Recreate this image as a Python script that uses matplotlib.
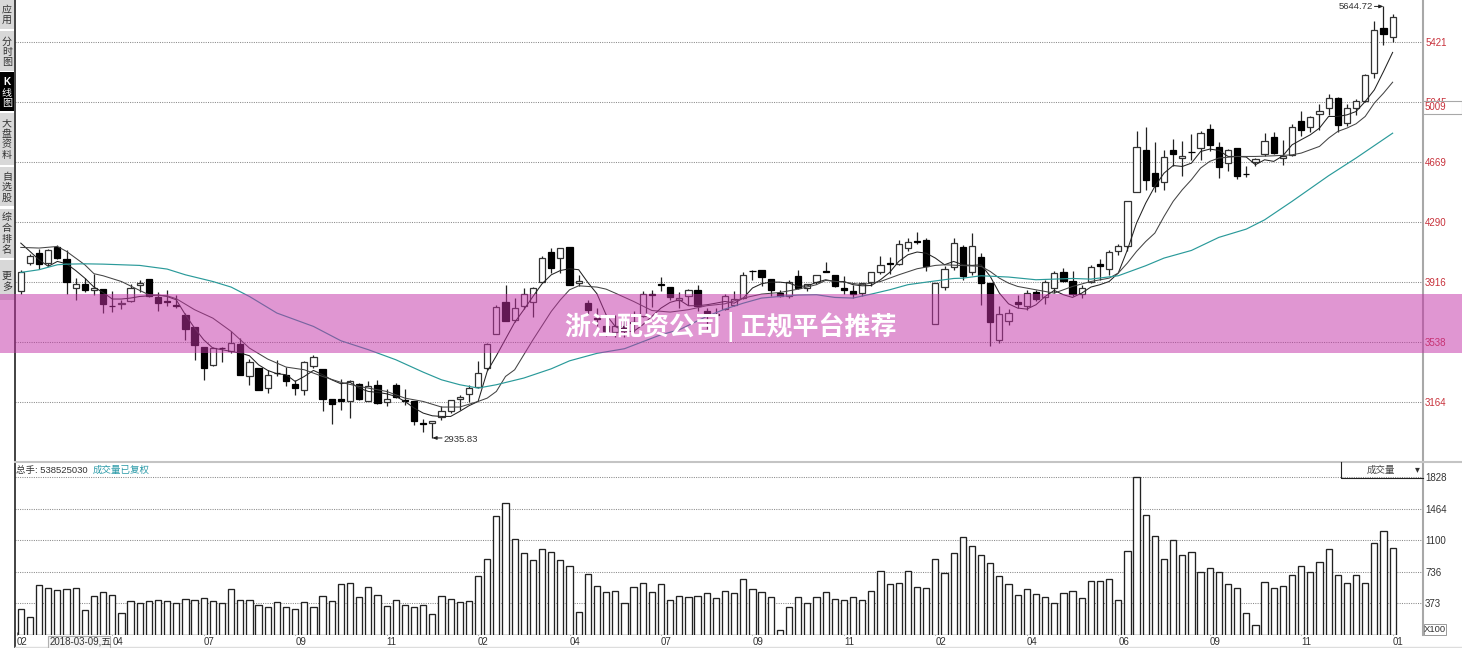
import matplotlib
matplotlib.use("Agg")
import matplotlib.pyplot as plt
import numpy as np
from matplotlib.patches import Rectangle

plt.rcParams['font.family'] = ['Liberation Sans', 'Noto Sans CJK SC', 'DejaVu Sans']

open_ = [3856,4034,4098,4031,4136,4059,3875,3902,3864,3870,
 3766,3776,3793,3898,3933,3820,3793,3772,3709,3632,
 3510,3391,3502,3479,3527,3324,3377,3247,3345,3328,
 3276,3236,3385,3368,3180,3180,3167,3276,3167,3266,
 3159,3266,3172,3165,3027,3027,3069,3105,3180,3211,
 3253,3375,3588,3789,3674,3764,3789,3914,4103,4065,
 4134,3910,3785,3688,3640,3600,3636,3663,3699,3839,
 3902,3883,3803,3828,3864,3734,3711,3747,3768,3812,
 3987,3990,3931,3843,3828,3950,3879,3916,3981,3956,
 3879,3856,3843,3918,3977,4031,4027,4130,4172,4176,
 3651,3883,4009,4136,3977,4072,3908,3553,3672,3787,
 3762,3850,3821,3879,3977,3921,3837,3917,4028,3996,
 4109,4139,4480,4745,4601,4544,4741,4693,4733,4754,
 4875,4764,4662,4756,4595,4670,4716,4827,4693,4712,
 4923,4887,4967,5007,5072,4910,5007,5051,5224,5507,5450]
close = [3975,4075,4027,4113,4065,3918,3900,3862,3877,3774,
 3762,3780,3879,3906,3828,3782,3787,3764,3619,3519,
 3375,3500,3498,3529,3328,3410,3239,3333,3341,3291,
 3251,3414,3444,3178,3147,3167,3291,3178,3264,3155,
 3180,3193,3167,3040,3023,3042,3103,3174,3190,3251,
 3343,3525,3755,3670,3751,3839,3879,4065,4000,4126,
 3898,3921,3739,3682,3605,3636,3605,3659,3839,3835,
 3898,3820,3816,3862,3762,3720,3707,3824,3808,3956,
 3983,3946,3864,3824,3916,3877,3900,3960,3977,3887,
 3862,3841,3906,3975,4023,4027,4153,4165,4167,4013,
 3908,3998,4157,3950,4143,3906,3662,3716,3718,3779,
 3846,3808,3917,3971,3921,3837,3875,4009,4015,4103,
 4143,4425,4762,4553,4515,4699,4716,4708,4729,4850,
 4777,4634,4741,4578,4590,4687,4800,4726,4703,4887,
 4867,4948,4986,5072,4898,5005,5049,5214,5496,5469,5576]
high = [3992,4090,4121,4121,4146,4113,3939,3939,3967,3870,
 3858,3803,3904,3929,3933,3849,3866,3835,3720,3632,
 3510,3504,3510,3605,3563,3431,3377,3364,3423,3379,
 3301,3418,3456,3368,3180,3305,3297,3280,3291,3297,
 3243,3280,3243,3165,3054,3042,3134,3174,3207,3270,
 3416,3531,3772,3895,3814,3875,3883,4075,4128,4126,
 4134,3958,3803,3751,3709,3709,3678,3730,3858,3862,
 3946,3883,3849,3870,3898,3751,3751,3839,3856,3979,
 3990,3990,3931,3866,3929,3992,3900,3960,4040,3956,
 3950,3898,3906,3975,4075,4071,4180,4190,4228,4190,
 3910,4013,4191,4149,4220,4097,3908,3766,3745,3835,
 3867,3862,3929,3982,4003,3982,3898,4019,4059,4118,
 4153,4425,4864,4887,4793,4745,4812,4800,4844,4860,
 4906,4793,4749,4756,4645,4693,4850,4856,4808,4908,
 4987,4954,5034,5097,5076,5034,5063,5218,5553,5644.72,5597]
low = [3839,4019,3998,4013,4059,3841,3805,3849,3835,3718,
 3724,3745,3787,3849,3820,3730,3766,3749,3552,3427,
 3301,3389,3410,3469,3328,3270,3239,3216,3322,3264,
 3203,3203,3375,3107,3021,3109,3059,3176,3167,3151,
 3134,3188,3144,3015,2973,2935.83,3046,3092,3113,3161,
 3251,3364,3588,3670,3661,3745,3695,3914,3971,3971,
 3898,3891,3709,3636,3573,3569,3569,3598,3695,3757,
 3860,3803,3751,3772,3730,3619,3657,3741,3762,3808,
 3929,3887,3828,3820,3812,3870,3856,3900,3975,3883,
 3841,3812,3824,3887,3967,3967,4023,4107,4153,3981,
 3651,3866,3992,3929,3961,3772,3511,3532,3647,3752,
 3741,3793,3779,3846,3913,3829,3812,3908,3929,3961,
 4086,4107,4477,4494,4477,4490,4641,4578,4682,4682,
 4735,4565,4609,4563,4574,4645,4708,4720,4647,4708,
 4833,4854,4871,4965,4854,4892,4965,5046,5197,5400,5419]

volume = [306,213,584,550,526,538,550,294,457,503,468,255,399,368,399,410,399,368,422,402,
 433,399,368,538,410,410,352,325,387,329,306,387,325,457,399,592,608,445,553,468,
 341,410,352,329,352,248,457,422,387,399,689,882,
 1381,1529,1114,947,865,1001,958,865,795,272,702,563,504,512,369,555,598,504,586,411,
 458,442,458,493,435,516,493,644,528,504,446,62,330,442,369,446,504,423,404,442,
 404,516,741,586,609,741,555,547,885,714,947,1133,
 1036,923,830,679,586,469,528,481,446,369,493,512,435,629,632,644,411,970,1828,1389,
 1148,877,1098,923,958,726,772,726,590,547,260,120,617,547,574,691,795,733,842,993,
 691,609,691,598,1063,1203,1005]

ma_fast = [4159,4107,4054,4013,4044,4029,3987,3939,3883,3849,3808,3808,3814,3824,3828,3833,3824,3803,3709,3626,
 3552,3500,3490,3479,3469,3452,3395,3360,3339,3333,3291,3322,3360,3333,3301,3276,3285,3249,3228,3222,
 3213,3197,3165,3124,3092,3075,3071,3071,3103,3138,3165,
 3354,3452,3557,3661,3741,3824,3904,3960,3987,3998,3992,3912,3841,3709,3636,3605,3605,3646,3699,3751,
 3787,3803,3766,3766,3772,3782,3793,3782,3814,3877,3904,3914,3914,3908,3887,3891,3912,3929,3918,3918,
 3898,3891,3893,3929,3975,4044,4086,4103,4096,4065,
 4023,4044,4023,4019,4023,3950,3845,3778,3751,3745,3772,3824,3862,3835,3818,3845,3883,3898,3918,3971,
 4117,4285,4410,4515,4598,4646,4640,4661,4734,4749,4741,4703,4703,4699,4651,4682,4672,4707,4776,4808,
 4839,4881,4954,4954,4964,4985,5048,5121,5236,5356]

ma_slow_idx = [0,2,4,5,7,8,9,11,13,14,16,17,19,21,23,25,27,29,31,33,35,37,38,40,42,44,46,48,50,51,52,53,54,55,56,
 58,59,60,61,63,64,65,67,69,71,73,75,77,79,81,83,85,87,88,90,92,94,96,98,100,101,105,106,107,108,109,111,113,115,117,
 119,120,121,122,123,124,125,126,127,128,129,130,131,133,135,137,139,140,141,142,143,144,145,146,147,148,149,150]
ma_slow = [4132,4128,4138,4107,4023,3967,3954,3918,3862,3835,3828,3810,3741,3688,3605,3500,3431,3381,3364,3322,3285,3259,3249,3228,3186,3165,3130,3130,3165,3186,3228,3322,3364,3458,3552,
 3730,3803,3866,3891,3883,3870,3845,3793,3736,3726,3741,3766,3778,3814,3839,3849,3870,3898,3925,3914,3898,3918,3960,3998,4019,4023,4013,3981,3939,3908,3887,3866,3845,3887,3918,
 3939,3971,4034,4107,4169,4222,4326,4421,4494,4557,4630,4672,4693,4703,4703,4707,4713,4724,4745,4766,4818,4860,4881,4908,4954,5038,5100,5169]

ma_long_idx = [0,2,4,5,7,9,13,16,18,21,23,25,28,32,35,38,41,44,46,48,50,52,55,58,60,63,66,70,72,75,77,79,81,83,85,87,89,91,93,95,97,99,
 102,103,105,108,111,115,117,120,123,125,128,131,134,136,139,143,146,150]
ma_long = [3975,3992,4023,4027,4029,4027,4019,3996,3960,3918,3883,3824,3720,3636,3546,3490,3427,3349,3301,3270,3249,3270,3312,3370,3420,3467,3496,3584,3615,3699,3745,3782,3814,3824,3833,3835,3818,3814,3839,3866,3898,3914,
 3937,3939,3954,3946,3929,3937,3933,3954,4017,4065,4113,4195,4247,4305,4421,4582,4693,4849]

price_ticks = [5421,5045,4669,4290,3916,3538,3164]
volume_ticks = [1828,1464,1100,736,373]
tick_idx = [-0.45,10,20,30,40,50,60,70,80,90,100,110,120,130,140,150]
tick_labels = ['02','04','07','09','11','02','04','07','09','11','02','04','06','09','11','01']
side_buttons = [('应用', 0, 29, '#d8d8d8', '#333333', [9, 20]),
                ('分时图', 31, 71, '#d8d8d8', '#333333', [42, 52, 62]),
                ('K线图', 72, 111, '#000000', '#ffffff', [82, 93, 103]),
                ('大盘资料', 113, 165, '#d8d8d8', '#333333', [123, 134, 144, 155]),
                ('自选股', 167, 206, '#d8d8d8', '#333333', [177, 187, 198]),
                ('综合排名', 209, 258, '#d8d8d8', '#333333', [217, 228, 239, 250]),
                ('更多', 260, 300, '#d8d8d8', '#333333', [276, 287])]

W, H = 1462, 648
fig = plt.figure(figsize=(W/100, H/100), dpi=100, facecolor='white')
L, R = 15, 1423
xlim = (-0.634, 153.32)
ax = fig.add_axes([L/W, 1-462/H, (R-L)/W, 462/H])
av = fig.add_axes([L/W, 1-635/H, (R-L)/W, 173/H])
GRID = dict(color='#8a8a8a', lw=0.75, ls=(0, (1, 1.2)), zorder=0)

n = len(close)
x = np.arange(n)
o, c, hi, lo = map(np.array, (open_, close, high, low))
up = c >= o
ax.vlines(x, lo, hi, color='#222222', lw=0.9, zorder=2)
ax.bar(x[up], np.abs(c-o)[up], bottom=np.minimum(o, c)[up], width=0.68, facecolor='white',
       edgecolor='#333333', lw=0.9, zorder=3)
ax.bar(x[~up], np.abs(c-o)[~up], bottom=np.minimum(o, c)[~up], width=0.68, facecolor='black',
       edgecolor='black', lw=0.9, zorder=3)
ax.plot(x, ma_fast, color='#222222', lw=0.75, zorder=4)
ax.plot(ma_slow_idx, ma_slow, color='#444444', lw=0.75, zorder=4)
ax.plot(ma_long_idx, ma_long, color='#2a9a9a', lw=0.85, zorder=4)
ax.set_xlim(*xlim)
ax.set_ylim(2785, 5685)
for t in price_ticks:
    ax.axhline(t, **GRID)
ax.set_xticks([])
ax.yaxis.tick_right()
ax.set_yticks(price_ticks)
ax.set_yticklabels([str(t) for t in price_ticks], color='#c8323c', fontsize=7)
ax.tick_params(axis='y', length=0, pad=1.5)
for s in ax.spines.values():
    s.set_visible(False)
ax.patch.set_alpha(0)

ix_hi = int(np.argmax(hi))
ix_lo = int(np.argmin(lo))
ax.annotate(f'{hi[ix_hi]:.2f}', xy=(ix_hi, hi[ix_hi]), xytext=(-7.6, 0), textcoords='offset points',
            ha='right', va='center', fontsize=6.8, color='#333333')
ax.annotate('', xy=(ix_hi, hi[ix_hi]), xytext=(-6.5, 0), textcoords='offset points',
            arrowprops=dict(arrowstyle='-|>,head_length=0.25,head_width=0.1', color='#222222', lw=0.7,
                            shrinkA=0, shrinkB=0))
ax.annotate(f'{lo[ix_lo]:.2f}', xy=(ix_lo, lo[ix_lo]), xytext=(8, -1), textcoords='offset points',
            ha='left', va='center', fontsize=6.8, color='#333333')
ax.annotate('', xy=(ix_lo, lo[ix_lo]), xytext=(7, 0), textcoords='offset points',
            arrowprops=dict(arrowstyle='-|>,head_length=0.25,head_width=0.1', color='#222222', lw=0.7,
                            shrinkA=0, shrinkB=0))

av.bar(x, volume, width=0.68, facecolor='white', edgecolor='#222222', lw=0.95, zorder=3)
av.set_xlim(*xlim)
av.set_ylim(0, 2007)
for t in volume_ticks:
    av.axhline(t, **GRID)
av.set_xticks(tick_idx)
av.set_xticklabels(tick_labels, fontsize=7, color='#333333', ha='left')
av.tick_params(axis='x', length=2, width=0.6, direction='in', pad=1.5, color='#555555')
av.yaxis.tick_right()
av.set_yticks(volume_ticks)
av.set_yticklabels([str(t) for t in volume_ticks], color='#333333', fontsize=7)
av.tick_params(axis='y', length=0, pad=1.5)
for s in av.spines.values():
    s.set_visible(False)
av.patch.set_alpha(0)

# interface chrome and overlays in pixel coordinates
ov = fig.add_axes([0, 0, 1, 1], zorder=10)
ov.set_xlim(0, W)
ov.set_ylim(H, 0)
ov.axis('off')
ov.patch.set_alpha(0)
for label, y0, y1, bg, fg, ys in side_buttons:
    ov.add_patch(Rectangle((0, y0), 14, y1-y0, facecolor=bg, edgecolor='none', zorder=1))
    for ch, yy in zip(label, ys):
        ov.text(7, yy, ch, ha='center', va='center', fontsize=7.2, color=fg, zorder=2,
                fontweight='bold' if ch == 'K' else 'normal')
ov.plot([15, 15], [0, H], color='#222222', lw=1.2, zorder=2)
ov.plot([R, R], [0, 635], color='#a8a8a8', lw=1.5, zorder=2)
ov.plot([15, W], [461.5, 461.5], color='#c4c4c4', lw=1.5, zorder=2)
ov.plot([15, W], [647, 647], color='#dddddd', lw=1, zorder=2)
ov.add_patch(Rectangle((R, 101), W-R, 13, facecolor='white', edgecolor='#a8a8a8', lw=0.8, zorder=3))
ov.text(1425, 107.5, '5009', color='#c8323c', fontsize=7, ha='left', va='center', zorder=4)
ov.add_patch(Rectangle((48, 636), 62, 12, facecolor='#f4f4f4', edgecolor='#b0b0b0', lw=0.8, zorder=3))
ov.text(49.5, 642, '2018-03-09,五', color='#333333', fontsize=7, ha='left', va='center', zorder=4)
ov.add_patch(Rectangle((1424, 624), 22, 11, facecolor='white', edgecolor='#999999', lw=0.7, zorder=3))
ov.text(1435, 629.5, 'X100', color='#333333', fontsize=6.8, ha='center', va='center', zorder=4)
ov.text(16, 470, '总手: 538525030', color='#333333', fontsize=6.8, ha='left', va='center', zorder=4)
ov.text(93, 470, '成交量已复权', color='#2a9aa8', fontsize=6.8, ha='left', va='center', zorder=4)
ov.plot([1340.5, 1340.5, R], [462, 477.5, 477.5], color='#222222', lw=0.8, zorder=3)
ov.text(1381, 470, '成交量', color='#444444', fontsize=6.8, ha='center', va='center', zorder=4)
ov.text(1417, 469.5, '▾', color='#333333', fontsize=7, ha='center', va='center', zorder=4,
        family='DejaVu Sans')
ov.add_patch(Rectangle((0, 294), W, 59, facecolor=(196/255, 50/255, 167/255), alpha=0.51,
                       edgecolor='none', zorder=8))
ov.text(731, 327, '浙江配资公司 | 正规平台推荐', color='white', fontsize=18.7, fontweight='bold',
        ha='center', va='center', zorder=9, family=['Noto Sans CJK SC', 'DejaVu Sans'])

fig.savefig('out.png', dpi=100)
